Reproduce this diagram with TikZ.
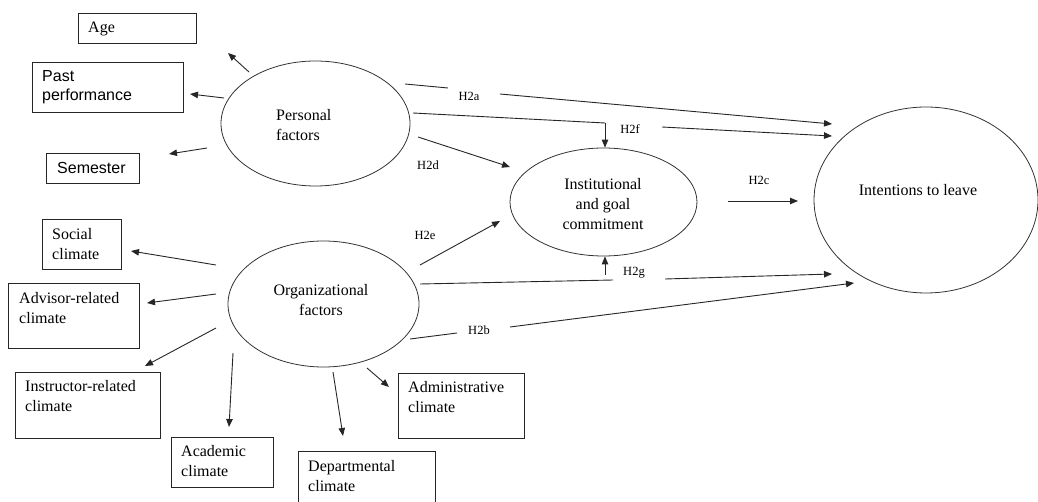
\documentclass[tikz,border=0pt]{standalone}
\usepackage{fontspec}
\setmainfont{Liberation Serif}
\newfontfamily\arialf{Liberation Sans}
\usetikzlibrary{arrows.meta,shapes.geometric}
\begin{document}
\begin{tikzpicture}[x=1pt,y=-1pt,
 ln/.style={line width=0.9pt, draw=black!85},
 arr/.style={ln, -{Triangle[length=8pt,width=6.5pt]}},
 box/.style={draw=black!85, line width=0.9pt, rectangle, inner sep=0, anchor=north west},
 ell/.style={draw=black!80, line width=0.8pt, ellipse, inner sep=0},
 txt/.style={inner sep=0, font=\fontsize{16}{20}\selectfont, align=left, anchor=west},
 stxt/.style={inner sep=0, font=\arialf\fontsize{16}{19}\selectfont, align=left, anchor=west},
 ctxt/.style={inner sep=0, font=\fontsize{16}{20}\selectfont, align=center},
 hl/.style={inner sep=0, font=\fontsize{12.5}{14}\selectfont}]
\useasboundingbox (0,0) rectangle (1038,502);

% boxes
\node[box, minimum width=118pt, minimum height=30pt] (age) at (78,13) {};
\node[box, minimum width=151pt, minimum height=50pt] (past) at (32,62) {};
\node[box, minimum width=93pt, minimum height=30pt] (sem) at (46,153) {};
\node[box, minimum width=79pt, minimum height=50pt] (soc) at (42,219) {};
\node[box, minimum width=131pt, minimum height=65pt] (adv) at (8,283) {};
\node[box, minimum width=145pt, minimum height=66pt] (ins) at (15,372) {};
\node[box, minimum width=102pt, minimum height=50pt] (aca) at (171,437) {};
\node[box, minimum width=137pt, minimum height=70pt] (dep) at (298,451) {};
\node[box, minimum width=126pt, minimum height=65pt] (adm) at (398,373) {};

\node[txt] (tage) at (88,29) {Age};
\node[stxt] (tpast) at (42,87) {Past\\performance};
\node[stxt] (tsem) at (57,168) {Semester};
\node[txt] (tsoc) at (52,244) {Social\\climate};
\node[txt] (tadv) at (19,308) {Advisor-related\\climate};
\node[txt] (tins) at (25,396) {Instructor-related\\climate};
\node[txt] (taca) at (181,461) {Academic\\climate};
\node[txt] (tdep) at (308,476) {Departmental\\climate};
\node[txt] (tadm) at (408,397) {Administrative\\climate};

% ellipses
\node[ell, minimum width=189pt, minimum height=125pt] (pf) at (315.5,123.5) {};
\node[ell, minimum width=191pt, minimum height=126pt] (org) at (323.5,304) {};
\node[ell, minimum width=187pt, minimum height=108pt] (inst) at (603.5,202) {};
\node[ell, minimum width=224pt, minimum height=186pt] (itl) at (926,200) {};

\node[txt] (tpf) at (276,125) {Personal\\factors};
\node[ctxt] (torg) at (321,300) {Organizational\\factors};
\node[ctxt] (tinst) at (603,204) {Institutional\\and goal\\commitment};
\node[ctxt] (titl) at (918,190) {Intentions to leave};

% personal factor arrows
\coordinate (p1s) at (249,72); \coordinate (p1e) at (228,53);
\coordinate (p2s) at (224,98); \coordinate (p2e) at (190,94);
\coordinate (p3s) at (207,148); \coordinate (p3e) at (169,154);
\draw[arr] (p1s) -- (p1e);
\draw[arr] (p2s) -- (p2e);
\draw[arr] (p3s) -- (p3e);

% organizational factor arrows
\coordinate (o1s) at (216,265); \coordinate (o1e) at (131,251);
\coordinate (o2s) at (216,294); \coordinate (o2e) at (147,303);
\coordinate (o3s) at (216,328); \coordinate (o3e) at (145,366);
\coordinate (o4s) at (233,353); \coordinate (o4e) at (229,427);
\coordinate (o5s) at (333,372); \coordinate (o5e) at (343,436);
\coordinate (o6s) at (367,368); \coordinate (o6e) at (389,387);
\draw[arr] (o1s) -- (o1e);
\draw[arr] (o2s) -- (o2e);
\draw[arr] (o3s) -- (o3e);
\draw[arr] (o4s) -- (o4e);
\draw[arr] (o5s) -- (o5e);
\draw[arr] (o6s) -- (o6e);

% hypothesis paths
\coordinate (a1) at (405,84); \coordinate (a2) at (448,88);
\coordinate (a3) at (500,94); \coordinate (a4) at (832,124);
\draw[ln] (a1) -- (a2);
\draw[arr] (a3) -- (a4);
\node[hl] (h2a) at (469,96) {H2a};

\coordinate (f1) at (413,113); \coordinate (f2) at (605,123);
\coordinate (f3) at (662,127); \coordinate (f4) at (832,136);
\draw[ln] (f1) -- (f2);
\draw[arr] (f2) -- (f2 |- inst.north);
\draw[arr] (f3) -- (f4);
\node[hl] (h2f) at (630,129) {H2f};

\coordinate (d1) at (418,137); \coordinate (d2) at (510,167);
\draw[arr] (d1) -- (d2);
\node[hl] (h2d) at (428,165) {H2d};

\coordinate (e1) at (420,265); \coordinate (e2) at (500,221);
\draw[arr] (e1) -- (e2);
\node[hl] (h2e) at (425,235) {H2e};

\coordinate (c1) at (728,201); \coordinate (c2) at (798,201);
\draw[arr] (c1) -- (c2);
\node[hl] (h2c) at (759,180) {H2c};

\coordinate (g1) at (420,284); \coordinate (g2) at (613,280);
\coordinate (g3) at (605,275);
\coordinate (g4) at (665,279); \coordinate (g5) at (832,274);
\draw[ln] (g1) -- (g2);
\draw[arr] (g3) -- (g3 |- inst.south);
\draw[arr] (g4) -- (g5);
\node[hl] (h2g) at (634,273) {H2g};

\coordinate (b1) at (410,339); \coordinate (b2) at (457,333);
\coordinate (b3) at (510,327); \coordinate (b4) at (854,283);
\draw[ln] (b1) -- (b2);
\draw[arr] (b3) -- (b4);
\node[hl] (h2b) at (479,330) {H2b};
\end{tikzpicture}
\end{document}
